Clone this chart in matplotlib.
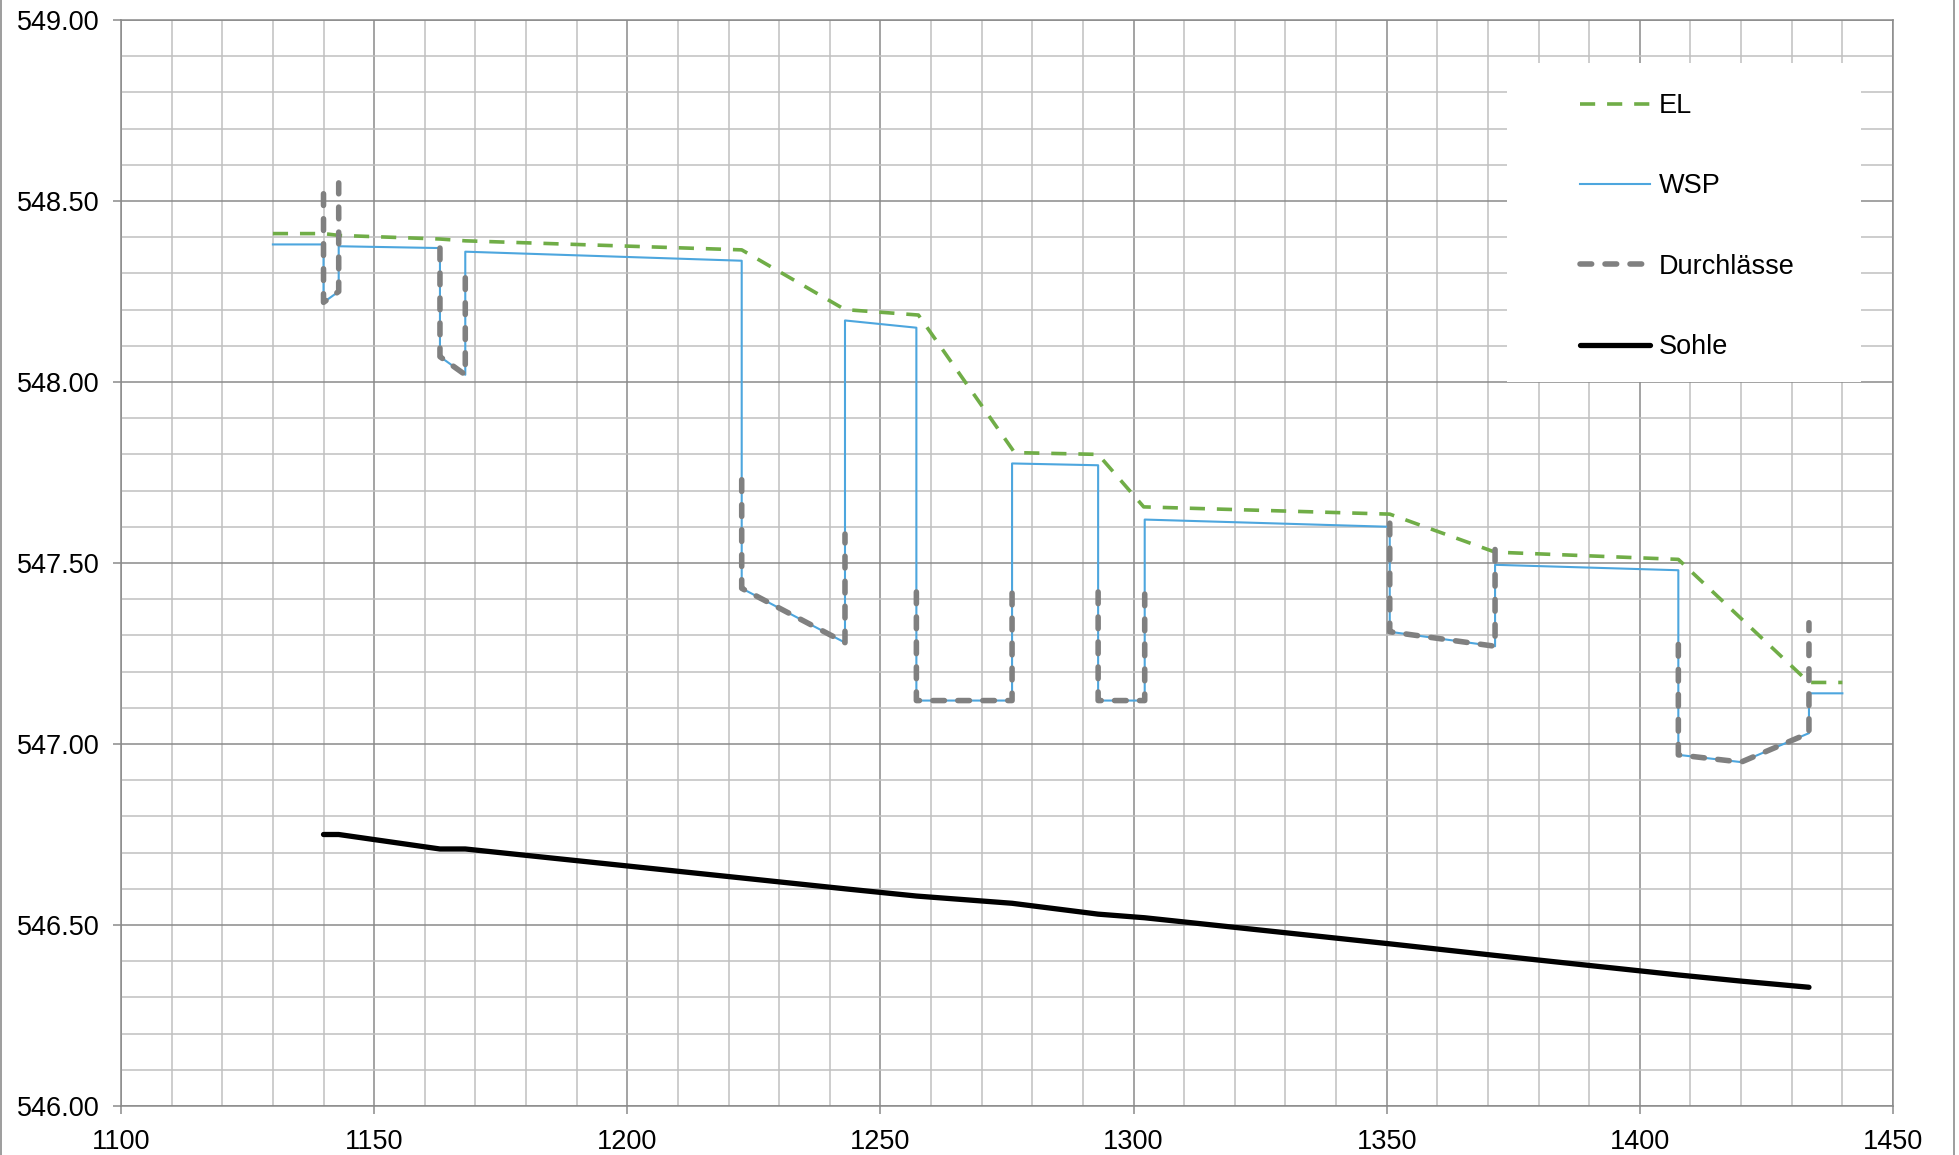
import numpy as np
import matplotlib
matplotlib.use("Agg")
import matplotlib.pyplot as plt
from matplotlib.ticker import MultipleLocator, FormatStrFormatter
from matplotlib.patches import Rectangle

plt.rcParams['font.family'] = ['Liberation Sans', 'DejaVu Sans']

# ---------------- data ----------------
el_x = [1130, 1140, 1143, 1163, 1168, 1222.6, 1243, 1257.5, 1276.5, 1293,
        1302, 1350.6, 1371.4, 1407.6, 1433.4, 1440]
el_y = [548.41, 548.41, 548.405, 548.395, 548.39, 548.365, 548.20, 548.185,
        547.805, 547.80, 547.655, 547.635, 547.53, 547.51, 547.17, 547.17]

wsp_x = [1130, 1140, 1140, 1143, 1143, 1163, 1163, 1168, 1168, 1222.6, 1222.6,
         1243, 1243, 1257.1, 1257.1, 1276, 1276, 1293, 1293, 1302.2, 1302.2,
         1350.6, 1350.6, 1371.4, 1371.4, 1407.6, 1407.6, 1420, 1433.4, 1433.4, 1440]
wsp_y = [548.38, 548.38, 548.22, 548.25, 548.375, 548.37, 548.07, 548.02, 548.36,
         548.335, 547.43, 547.28, 548.17, 548.15, 547.12, 547.12, 547.775, 547.77,
         547.12, 547.12, 547.62, 547.60, 547.31, 547.27, 547.495, 547.48, 546.97,
         546.95, 547.03, 547.14, 547.14]

# culverts (Durchlässe); None separates the individual culverts
d_x = [1140, 1140, 1143, 1143, None,
       1163, 1163, 1168, 1168, None,
       1222.6, 1222.6, 1243, 1243, None,
       1257.1, 1257.1, 1276, 1276, None,
       1293, 1293, 1302.2, 1302.2, None,
       1350.6, 1350.6, 1371.4, 1371.4, None,
       1407.6, 1407.6, 1420, 1433.4, 1433.4]
d_y = [548.52, 548.22, 548.25, 548.55, None,
       548.37, 548.07, 548.02, 548.32, None,
       547.73, 547.43, 547.28, 547.58, None,
       547.42, 547.12, 547.12, 547.42, None,
       547.42, 547.12, 547.12, 547.42, None,
       547.61, 547.31, 547.27, 547.56, None,
       547.275, 546.97, 546.95, 547.03, 547.335]

sohle_x = [1140, 1143, 1163, 1168, 1222.6, 1243, 1257.1, 1276, 1293, 1302.2,
           1350.6, 1371.4, 1407.6, 1420, 1433.4]
sohle_y = [546.75, 546.75, 546.71, 546.71, 546.63, 546.60, 546.58, 546.56, 546.53,
           546.52, 546.448, 546.416, 546.362, 546.345, 546.328]

labels = ["EL", "WSP", "Durchlässe", "Sohle"]

# ---------------- figure ----------------
W, H = 1959, 1155
FS = 19.5
fig = plt.figure(figsize=(W / 100, H / 100), dpi=100)
ax = fig.add_axes([121 / W, 1 - 1106 / H, 1772 / W, 1086 / H])

# outer chart border
fig.patches.append(Rectangle((0.0003, -0.01), 1953 / W, 1.02, transform=fig.transFigure,
                             fill=False, edgecolor='#8c8c8c', linewidth=1.2))

def arr(v):
    return np.array([np.nan if a is None else a for a in v], dtype=float)

l_el, = ax.plot(el_x, el_y, color='#70AD47', linewidth=2.6, linestyle=(0, (4.2, 3.3)),
                dash_capstyle='butt', label=labels[0], zorder=3)
l_wsp, = ax.plot(wsp_x, wsp_y, color='#4DA6DE', linewidth=1.5, label=labels[1], zorder=3)
l_d, = ax.plot(arr(d_x), arr(d_y), color='#808080', linewidth=4.0, linestyle=(0, (2.1, 2.4)),
               dash_capstyle='round', label=labels[2], zorder=4)
l_s, = ax.plot(sohle_x, sohle_y, color='black', linewidth=3.8, solid_capstyle='round',
               solid_joinstyle='round', label=labels[3], zorder=4)

ax.set_xlim(1100, 1450)
ax.set_ylim(546, 549)
ax.xaxis.set_major_locator(MultipleLocator(50))
ax.xaxis.set_minor_locator(MultipleLocator(10))
ax.yaxis.set_major_locator(MultipleLocator(0.5))
ax.yaxis.set_minor_locator(MultipleLocator(0.1))
ax.yaxis.set_major_formatter(FormatStrFormatter('%.2f'))
ax.xaxis.set_major_formatter(FormatStrFormatter('%d'))

ax.set_axisbelow(True)
ax.grid(which='major', color='#8a8a8a', linewidth=1.1)
ax.grid(which='minor', color='#c0c0c0', linewidth=1.1)
for s in ax.spines.values():
    s.set_color('#8a8a8a')
    s.set_linewidth(1.1)

ax.tick_params(which='major', direction='out', length=5.5, width=1.1, color='#8a8a8a',
               labelsize=FS, labelcolor='black')
ax.tick_params(axis='y', which='major', pad=10)
ax.tick_params(axis='x', which='major', pad=11)
ax.tick_params(which='minor', length=0)

# legend background
ax.add_patch(Rectangle((0.7822, 0.6667), 0.1998, 0.2937, transform=ax.transAxes,
                       facecolor='white', edgecolor='none', zorder=1))
ax.legend(handles=[l_el, l_wsp, l_d, l_s], loc='upper left', bbox_to_anchor=(0.8234, 0.9328),
          frameon=False, borderpad=0, borderaxespad=0, fontsize=FS, handlelength=2.6,
          handletextpad=0.3, labelspacing=2.01)

fig.savefig('out.png', dpi=100)
